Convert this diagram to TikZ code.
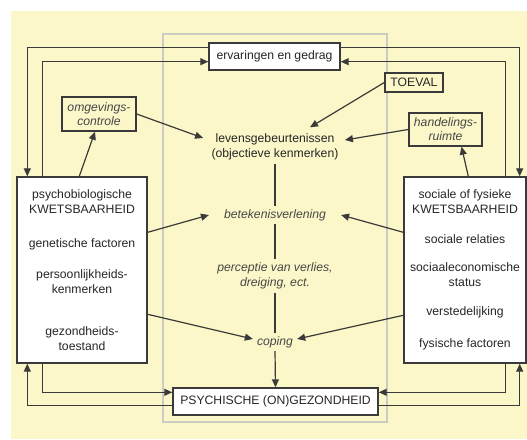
\documentclass[tikz,border=0pt]{standalone}
\usepackage{fontspec}
\setmainfont{Liberation Sans}
\usetikzlibrary{calc,arrows.meta,positioning}
\definecolor{bgyel}{RGB}{251,247,200}
\definecolor{lijn}{RGB}{58,58,58}
\definecolor{kader}{RGB}{204,204,196}
\definecolor{tekst}{RGB}{38,38,38}

\begin{document}
\begin{tikzpicture}[x=1pt,y=-1pt,
		font=\fontsize{12.2}{15}\selectfont,
		>={Triangle[length=8pt,width=7pt]},
		box/.style={draw=lijn,line width=1.4pt,fill=white,text=tekst,inner sep=2pt},
		kwbox/.style={box,align=center,minimum height=186pt},
		ital/.style={font=\fontsize{12.2}{15}\selectfont\itshape,text=tekst!85!white},
		pijl/.style={->,draw=lijn,line width=1.2pt},
		lijntje/.style={draw=lijn,line width=1.2pt}]
		\useasboundingbox (0,0) rectangle (527,439);
		\fill[bgyel] (11,11) rectangle (527,439);
		\draw[kader,line width=1.2pt] (163,34) rectangle (387,422);
		% knopen
		\node[box,minimum width=131pt,minimum height=27pt] (erv) at (274.5,56.5) {ervaringen en gedrag};
		\node[box,fill=bgyel,minimum width=58pt,minimum height=19pt] (toev) at (414,82.5) {TOEVAL};
		\node[box,fill=bgyel,ital,align=center,minimum width=74pt,minimum height=34pt] (omg) at (99,114) {omgevings-\\[-1pt]controle};
		\node[box,fill=bgyel,ital,align=center,minimum width=73pt,minimum height=33pt] (hand) at (445.5,129.5) {handelings-\\[-1pt]ruimte};
		\node[align=center,text=tekst] (lev) at (275,147) {levensgebeurtenissen\\(objectieve kenmerken)};
		\node[ital,inner xsep=15pt] (bet) at (275,215) {betekenisverlening};
		\node[ital,align=center] (perc) at (275,276) {perceptie van verlies,\\dreiging, ect.};
		\node[ital,inner xsep=4pt] (cop) at (275,342) {coping};
		\node[box,minimum width=205pt,minimum height=27pt] (psy) at (275.5,401.5) {PSYCHISCHE (ON)GEZONDHEID};
		\node[kwbox,minimum width=130pt] (kwl) at (82,270) {psychobiologische\\KWETSBAARHEID\\[19pt]genetische factoren\\[16pt]persoonlijkheids-\\kenmerken\\[27pt]gezondheids-\\toestand};
		\node[kwbox,minimum width=122pt] (kwr) at (465,270) {sociale of fysieke\\KWETSBAARHEID\\[15pt]sociale relaties\\[13pt]sociaaleconomische\\status\\[14pt]verstedelijking\\[17pt]fysische factoren};
		% terugkoppeling boven
		\draw[pijl] ($(erv.north west)+(0,5)$) -| ($(kwl.north west)+(11,0)$);
		\draw[pijl] ($(kwl.north west)+(26,0)$) |- ($(erv.south west)+(0,-9)$);
		\draw[pijl] ($(erv.north east)+(0,5)$) -| ($(kwr.north east)+(-7,0)$);
		\draw[pijl] ($(kwr.north west)+(102,0)$) |- ($(erv.south east)+(0,-9)$);
		% terugkoppeling onder
		\draw[pijl] ($(psy.south west)+(0,-10)$) -| ($(kwl.south west)+(11,0)$);
		\draw[pijl] ($(kwl.south west)+(26,0)$) |- ($(psy.north west)+(0,5)$);
		\draw[pijl] ($(psy.south east)+(0,-10)$) -| ($(kwr.south east)+(-7,0)$);
		\draw[pijl] ($(kwr.south west)+(102,0)$) |- ($(psy.north east)+(0,5)$);
		% naar levensgebeurtenissen
		\draw[pijl] ($(kwl.north west)+(63,0)$) -- ($(omg.south)+(-4,0)$);
		\draw[pijl] ($(kwr.north west)+(65,0)$) -- ($(hand.south)+(16,0)$);
		\draw[pijl] (omg.east) -- ($(lev.west)+(-5,-9)$);
		\draw[pijl] (toev.west) -- ($(lev.north)+(35,-3)$);
		\draw[pijl] (hand.west) -- ($(lev.east)+(3,-7)$);
		% keten in het midden
		\draw[lijntje] (lev.south) -- (bet.north);
		\draw[lijntje] (bet.south) -- (perc.north);
		\draw[lijntje] (perc.south) -- (cop.north);
		\draw[pijl] (cop.south) -- (psy.north);
		% kwetsbaarheid naar het midden
		\draw[pijl] ($(kwl.north east)+(0,56)$) -- (bet.west);
		\draw[pijl] ($(kwr.north west)+(0,56)$) -- (bet.east);
		\draw[pijl] ($(kwl.north east)+(0,138)$) -- ($(cop.west)+(0,-3)$);
		\draw[pijl] ($(kwr.north west)+(0,139)$) -- ($(cop.east)+(0,-3)$);
	\end{tikzpicture}
\end{document}
